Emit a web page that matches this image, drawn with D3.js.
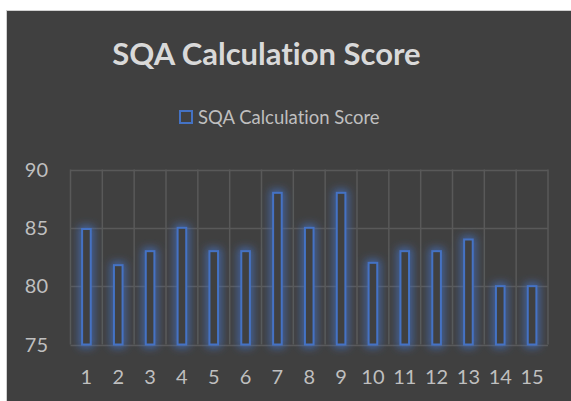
<!DOCTYPE html>
<html>
<head>
<meta charset="utf-8">
<script src="https://cdn.jsdelivr.net/npm/d3@7"></script>
<style>
  body { margin: 0; background: #ffffff; }
  text { font-variant-ligatures: none; font-feature-settings: "liga" 0, "dlig" 0; }
</style>
</head>
<body>
<div id="chart"></div>
<script>
// data
var categories = ["1", "2", "3", "4", "5", "6", "7", "8", "9", "10", "11", "12", "13", "14", "15"];
var scores = [84.9, 81.8, 83, 85, 83, 83, 88, 85, 88, 82, 83, 83, 84, 80, 80];
var yTicks = [75, 80, 85, 90];
var seriesName = "SQA Calculation Score";

var W = 571, H = 401;
var plot = {left: 70.5, right: 548, top: 169.5, bottom: 344.5};
var font = "Lato, 'Open Sans', sans-serif";

var svg = d3.select("#chart")
    .append("svg")
    .attr("width", W)
    .attr("height", H);

// glow for the bars
var defs = svg.append("defs");
var glow = defs.append("filter")
    .attr("id", "glow")
    .attr("x", "-200%").attr("y", "-30%")
    .attr("width", "500%").attr("height", "160%");
glow.append("feMorphology")
    .attr("in", "SourceGraphic")
    .attr("operator", "dilate")
    .attr("radius", 1.5)
    .attr("result", "fat");
glow.append("feGaussianBlur")
    .attr("in", "fat")
    .attr("stdDeviation", 4)
    .attr("result", "blur");
glow.append("feComponentTransfer")
    .attr("in", "blur")
    .attr("result", "soft")
    .append("feFuncA")
    .attr("type", "linear")
    .attr("slope", 0.8);
var merge = glow.append("feMerge");
merge.append("feMergeNode").attr("in", "soft");
merge.append("feMergeNode").attr("in", "SourceGraphic");

// chart background
svg.append("rect")
    .attr("x", 6.5).attr("y", 10.5)
    .attr("width", W - 6).attr("height", H - 10)
    .attr("fill", "#404040")
    .attr("stroke", "#d0d0d0")
    .attr("stroke-width", 1);

var x = d3.scaleBand()
    .domain(categories)
    .range([plot.left, plot.right])
    .padding(0);

var y = d3.scaleLinear()
    .domain([75, 90])
    .range([plot.bottom, plot.top]);

// horizontal gridlines
svg.append("g")
    .selectAll("line")
    .data(yTicks)
    .enter()
    .append("line")
    .attr("x1", plot.left)
    .attr("x2", plot.right)
    .attr("y1", function (d) { return Math.round(y(d)) + 0.5; })
    .attr("y2", function (d) { return Math.round(y(d)) + 0.5; })
    .style("stroke", "#595959")
    .style("stroke-width", 1.5);

// vertical gridlines between categories
var vLines = categories.map(function (c) { return x(c); }).concat([plot.right]);
svg.append("g")
    .selectAll("line")
    .data(vLines)
    .enter()
    .append("line")
    .attr("x1", function (d) { return d; })
    .attr("x2", function (d) { return d; })
    .attr("y1", plot.top)
    .attr("y2", plot.bottom)
    .style("stroke", "#595959")
    .style("stroke-width", 1.5);

// bars
var barW = x.bandwidth() * 0.27;
svg.append("g")
    .attr("filter", "url(#glow)")
    .selectAll("rect")
    .data(scores)
    .enter()
    .append("rect")
    .attr("x", function (d, i) { return x(categories[i]) + x.bandwidth() / 2 - barW / 2; })
    .attr("y", function (d) { return y(d); })
    .attr("width", barW)
    .attr("height", function (d) { return y(75) - y(d); })
    .attr("fill", "#404040")
    .attr("stroke", "#4472c4")
    .attr("stroke-width", 2);

// y axis labels
svg.append("g")
    .selectAll("text")
    .data(yTicks)
    .enter()
    .append("text")
    .attr("x", 48)
    .attr("y", function (d) { return y(d); })
    .attr("dy", "0.35em")
    .attr("text-anchor", "end")
    .attr("font-family", font)
    .attr("font-size", "20px")
    .attr("fill", "#bfbfbf")
    .text(function (d) { return d; });

// x axis labels
svg.append("g")
    .selectAll("text")
    .data(categories)
    .enter()
    .append("text")
    .attr("x", function (d) { return x(d) + x.bandwidth() / 2; })
    .attr("y", 377)
    .attr("dy", "0.35em")
    .attr("text-anchor", "middle")
    .attr("font-family", font)
    .attr("font-size", "20px")
    .attr("fill", "#bfbfbf")
    .text(function (d) { return d; });

// title
svg.append("text")
    .attr("x", 266.5)
    .attr("y", 54)
    .attr("dy", "0.35em")
    .attr("text-anchor", "middle")
    .attr("font-family", font)
    .attr("font-weight", "bold")
    .attr("font-size", "31px")
    .attr("fill", "#d9d9d9")
    .text(seriesName);

// legend
svg.append("rect")
    .attr("x", 180)
    .attr("y", 111)
    .attr("width", 12)
    .attr("height", 12)
    .attr("fill", "#404040")
    .attr("stroke", "#4472c4")
    .attr("stroke-width", 2);

svg.append("text")
    .attr("x", 198)
    .attr("y", 117.5)
    .attr("dy", "0.35em")
    .attr("font-family", font)
    .attr("font-size", "18.5px")
    .attr("fill", "#bfbfbf")
    .text(seriesName);
</script>
</body>
</html>
